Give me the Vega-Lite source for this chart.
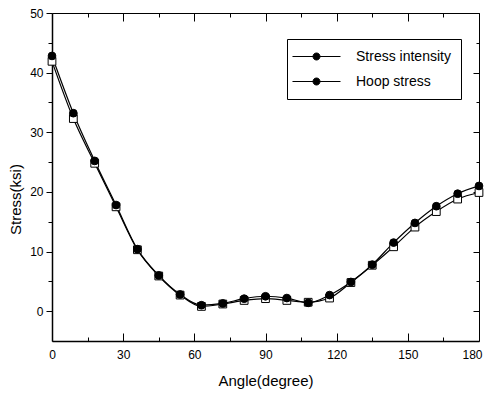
{
  "$schema": "https://vega.github.io/schema/vega-lite/v6.json",
  "width": 427,
  "height": 328,
  "autosize": {"type": "none"},
  "padding": {"left": 52, "top": 13, "right": 7, "bottom": 56},
  "background": "white",
  "config": {
    "font": "Liberation Sans",
    "view": {"stroke": null},
    "axis": {
      "grid": false,
      "domainColor": "black",
      "tickColor": "black",
      "labelColor": "black",
      "titleColor": "black",
      "labelFont": "Liberation Sans",
      "titleFont": "Liberation Sans",
      "labelFontSize": 12,
      "titleFontSize": 15,
      "titleFontWeight": "normal"
    }
  },
  "data": {
    "values": [
      {"angle": 0, "stress": 41.9, "series": "Hoop stress"},
      {"angle": 9, "stress": 32.3, "series": "Hoop stress"},
      {"angle": 18, "stress": 24.8, "series": "Hoop stress"},
      {"angle": 27, "stress": 17.5, "series": "Hoop stress"},
      {"angle": 36, "stress": 10.3, "series": "Hoop stress"},
      {"angle": 45, "stress": 5.9, "series": "Hoop stress"},
      {"angle": 54, "stress": 2.7, "series": "Hoop stress"},
      {"angle": 63, "stress": 0.8, "series": "Hoop stress"},
      {"angle": 72, "stress": 1.2, "series": "Hoop stress"},
      {"angle": 81, "stress": 1.8, "series": "Hoop stress"},
      {"angle": 90, "stress": 2.1, "series": "Hoop stress"},
      {"angle": 99, "stress": 1.8, "series": "Hoop stress"},
      {"angle": 108, "stress": 1.5, "series": "Hoop stress"},
      {"angle": 117, "stress": 2.2, "series": "Hoop stress"},
      {"angle": 126, "stress": 4.8, "series": "Hoop stress"},
      {"angle": 135, "stress": 7.7, "series": "Hoop stress"},
      {"angle": 144, "stress": 10.8, "series": "Hoop stress"},
      {"angle": 153, "stress": 14.1, "series": "Hoop stress"},
      {"angle": 162, "stress": 16.7, "series": "Hoop stress"},
      {"angle": 171, "stress": 18.8, "series": "Hoop stress"},
      {"angle": 180, "stress": 19.9, "series": "Hoop stress"},
      {"angle": 0, "stress": 42.8, "series": "Stress intensity"},
      {"angle": 9, "stress": 33.2, "series": "Stress intensity"},
      {"angle": 18, "stress": 25.2, "series": "Stress intensity"},
      {"angle": 27, "stress": 17.8, "series": "Stress intensity"},
      {"angle": 36, "stress": 10.4, "series": "Stress intensity"},
      {"angle": 45, "stress": 6.0, "series": "Stress intensity"},
      {"angle": 54, "stress": 2.8, "series": "Stress intensity"},
      {"angle": 63, "stress": 1.0, "series": "Stress intensity"},
      {"angle": 72, "stress": 1.3, "series": "Stress intensity"},
      {"angle": 81, "stress": 2.1, "series": "Stress intensity"},
      {"angle": 90, "stress": 2.5, "series": "Stress intensity"},
      {"angle": 99, "stress": 2.2, "series": "Stress intensity"},
      {"angle": 108, "stress": 1.4, "series": "Stress intensity"},
      {"angle": 117, "stress": 2.7, "series": "Stress intensity"},
      {"angle": 126, "stress": 4.9, "series": "Stress intensity"},
      {"angle": 135, "stress": 7.8, "series": "Stress intensity"},
      {"angle": 144, "stress": 11.5, "series": "Stress intensity"},
      {"angle": 153, "stress": 14.8, "series": "Stress intensity"},
      {"angle": 162, "stress": 17.6, "series": "Stress intensity"},
      {"angle": 171, "stress": 19.7, "series": "Stress intensity"},
      {"angle": 180, "stress": 21.0, "series": "Stress intensity"}
    ]
  },
  "resolve": {"axis": {"x": "independent", "y": "independent"}},
  "layer": [
    {
      "mark": {"type": "line", "interpolate": "monotone", "strokeWidth": 1.2},
      "encoding": {
        "x": {
          "field": "angle", "type": "quantitative",
          "scale": {"domain": [0, 180], "nice": false, "zero": false},
          "axis": {
            "orient": "bottom", "title": "Angle(degree)",
            "values": [0, 15, 30, 45, 60, 75, 90, 105, 120, 135, 150, 165, 180],
            "labelExpr": "datum.value % 30 === 0 ? datum.label : ''",
            "tickSize": {"condition": {"test": "datum.value % 30 === 0", "value": -8}, "value": -4},
            "labelPadding": 16,
            "labelOffset": {"condition": {"test": "datum.value === 180", "value": -7}, "value": 0},
            "domainWidth": 1.5,
            "labelFlush": false,
            "titlePadding": 13
          }
        },
        "y": {
          "field": "stress", "type": "quantitative",
          "scale": {"domain": [-5, 50], "nice": false, "zero": false},
          "axis": {
            "orient": "left", "title": "Stress(ksi)",
            "values": [0, 5, 10, 15, 20, 25, 30, 35, 40, 45, 50],
            "labelExpr": "datum.value % 10 === 0 ? datum.label : ''",
            "tickSize": {"condition": {"test": "datum.value % 10 === 0", "value": 6}, "value": 4},
            "labelPadding": 3,
            "domainWidth": 1.5,
            "labelFlush": false,
            "titleX": -29,
            "titleY": 186
          }
        },
        "stroke": {
          "field": "series", "type": "nominal",
          "scale": {"domain": ["Stress intensity", "Hoop stress"], "range": ["black", "black"]},
          "legend": {
            "title": null,
            "orient": "none",
            "legendX": 235,
            "legendY": 26,
            "padding": 10,
            "strokeColor": "black",
            "fillColor": "white",
            "symbolType": "M-3.43,0H3.43M0.5,0A0.5,0.5 0 1,1 -0.5,0A0.5,0.5 0 1,1 0.5,0Z",
            "symbolSize": 196,
            "symbolOffset": 12,
            "symbolFillColor": "black",
            "symbolStrokeWidth": 1,
            "labelOffset": 32,
            "labelFontSize": 14,
            "labelColor": "black",
            "labelFont": "Liberation Sans",
            "rowPadding": 10,
            "labelExpr": "datum.label + '\u00a0\u00a0'"
          }
        }
      }
    },
    {
      "transform": [{"filter": "datum.series === 'Hoop stress'"}],
      "mark": {"type": "point", "shape": "square", "filled": true, "fill": "white", "stroke": "black", "strokeWidth": 1, "opacity": 1, "size": 60},
      "encoding": {
        "x": {
          "field": "angle", "type": "quantitative",
          "axis": {
            "orient": "top", "title": null, "labels": false,
            "values": [0, 15, 30, 45, 60, 75, 90, 105, 120, 135, 150, 165, 180],
            "tickSize": {"condition": {"test": "datum.value % 30 === 0", "value": -8}, "value": -4},
            "domainWidth": 1
          }
        },
        "y": {
          "field": "stress", "type": "quantitative",
          "axis": {
            "orient": "right", "title": null, "labels": false,
            "values": [0, 5, 10, 15, 20, 25, 30, 35, 40, 45, 50],
            "tickSize": {"condition": {"test": "datum.value % 10 === 0", "value": -6}, "value": -3},
            "domainWidth": 1
          }
        }
      }
    },
    {
      "transform": [{"filter": "datum.series === 'Stress intensity'"}],
      "mark": {"type": "point", "shape": "circle", "filled": true, "fill": "black", "stroke": "black", "strokeWidth": 1, "opacity": 1, "size": 60},
      "encoding": {
        "x": {"field": "angle", "type": "quantitative", "axis": null},
        "y": {"field": "stress", "type": "quantitative", "axis": null}
      }
    }
  ]
}
